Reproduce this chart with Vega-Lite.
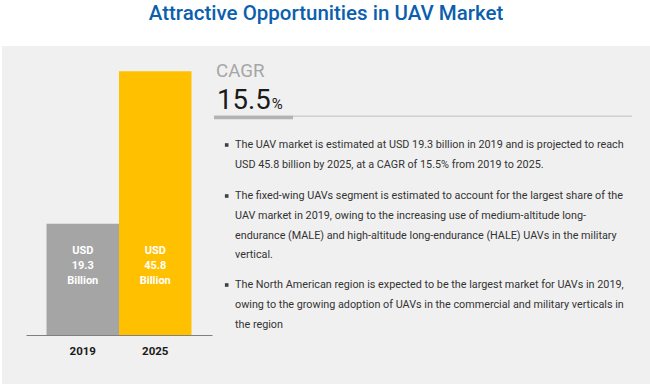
{
  "$schema": "https://vega.github.io/schema/vega-lite/v6.json",
  "width": 648,
  "height": 338,
  "autosize": {"type": "none"},
  "padding": {"left": 2, "top": 46, "right": 0, "bottom": 0},
  "background": "white",
  "title": {
    "text": "Attractive Opportunities in UAV Market",
    "anchor": "middle",
    "font": "Roboto",
    "fontSize": 20.5,
    "fontWeight": 500,
    "color": "#0b5fad",
    "offset": 22
  },
  "config": {"view": {"fill": "#f0f0f0", "stroke": null}, "font": "Roboto"},
  "datasets": {
    "market": [
      {"year": "2019", "value": 19.3},
      {"year": "2025", "value": 45.8}
    ],
    "cagr": [{"label": "CAGR", "rate": 15.5}],
    "bullets": [
      {"bullet": 1, "line": 1, "text": "The UAV market is estimated at USD 19.3 billion in 2019 and is projected to reach"},
      {"bullet": 1, "line": 2, "text": "USD 45.8 billion by 2025, at a CAGR of 15.5% from 2019 to 2025."},
      {"bullet": 2, "line": 1, "text": "The fixed-wing UAVs segment is estimated to account for the largest share of the"},
      {"bullet": 2, "line": 2, "text": "UAV market in 2019, owing to the increasing use of medium-altitude long-"},
      {"bullet": 2, "line": 3, "text": "endurance (MALE) and high-altitude long-endurance (HALE) UAVs in the military"},
      {"bullet": 2, "line": 4, "text": "vertical."},
      {"bullet": 3, "line": 1, "text": "The North American region is expected to be the largest market for UAVs in 2019,"},
      {"bullet": 3, "line": 2, "text": "owing to the growing adoption of UAVs in the commercial and military verticals in"},
      {"bullet": 3, "line": 3, "text": "the region"}
    ]
  },
  "layer": [
    {
      "data": {"name": "market"},
      "layer": [
        {
          "mark": {"type": "bar"},
          "encoding": {
            "x": {
              "field": "year",
              "type": "nominal",
              "scale": {"type": "band", "range": [24, 210], "paddingInner": 0, "paddingOuter": 0.283},
              "axis": {
                "title": null,
                "orient": "bottom",
                "offset": -49,
                "ticks": false,
                "grid": false,
                "domainColor": "#808080",
                "domainWidth": 1,
                "labelAngle": 0,
                "labelFont": "Roboto",
                "labelFontWeight": "bold",
                "labelFontSize": 11.5,
                "labelColor": "#1a1a1a",
                "labelPadding": 10
              }
            },
            "y": {
              "field": "value",
              "type": "quantitative",
              "scale": {"domain": [0, 49], "range": [289, 1]},
              "axis": null
            },
            "color": {
              "field": "year",
              "type": "nominal",
              "scale": {"range": ["#a5a5a5", "#ffc000"]},
              "legend": null
            }
          }
        },
        {
          "transform": [
            {"calculate": "['USD', format(datum.value, '.1f'), 'Billion']", "as": "label"}
          ],
          "mark": {
            "type": "text",
            "font": "Roboto",
            "fontWeight": "bold",
            "fontSize": 11,
            "color": "white",
            "lineHeight": 15,
            "lineBreak": "\n",
            "align": "center",
            "baseline": "middle"
          },
          "encoding": {
            "x": {"field": "year", "type": "nominal"},
            "y": {"datum": 14.5, "type": "quantitative"},
            "text": {"field": "label", "type": "nominal"}
          }
        }
      ]
    },
    {
      "data": {"name": "cagr"},
      "layer": [
        {
          "mark": {"type": "rule", "color": "#d0d0d0", "strokeWidth": 1.5},
          "encoding": {
            "x": {"datum": 0, "type": "quantitative", "scale": {"domain": [0, 1], "range": [212, 630]}, "axis": null},
            "x2": {"datum": 1},
            "y": {"datum": 1.23, "type": "quantitative", "scale": {"domain": [0, 1], "range": [31.3, 63]}, "axis": null}
          }
        },
        {
          "mark": {"type": "rule", "color": "#b3b3b3", "strokeWidth": 3.5},
          "encoding": {
            "x": {"datum": 0, "type": "quantitative"},
            "x2": {"datum": 0.189},
            "y": {"datum": 1.27, "type": "quantitative"}
          }
        },
        {
          "mark": {"type": "text", "align": "left", "baseline": "alphabetic", "fontSize": 18.7, "color": "#a6a6a6", "dx": 2},
          "encoding": {
            "x": {"datum": 0, "type": "quantitative"},
            "y": {"datum": 0, "type": "quantitative"},
            "text": {"field": "label", "type": "nominal"}
          }
        },
        {
          "mark": {"type": "text", "align": "left", "baseline": "alphabetic", "fontSize": 27.5, "color": "#1a1a1a", "dx": 3},
          "encoding": {
            "x": {"datum": 0, "type": "quantitative"},
            "y": {"datum": 1, "type": "quantitative"},
            "text": {"field": "rate", "type": "quantitative", "format": ".1f"}
          }
        },
        {
          "mark": {"type": "text", "align": "left", "baseline": "alphabetic", "fontSize": 15, "color": "#1a1a1a"},
          "encoding": {
            "x": {"datum": 0.138, "type": "quantitative"},
            "y": {"datum": 1, "type": "quantitative"},
            "text": {"value": "%"}
          }
        }
      ]
    },
    {
      "data": {"name": "bullets"},
      "layer": [
        {
          "transform": [{"filter": "datum.bullet == 1"}],
          "layer": [
            {
              "transform": [{"filter": "datum.line == 1"}],
              "mark": {"type": "point", "shape": "square", "filled": true, "size": 13, "color": "#404040", "opacity": 1},
              "encoding": {
                "x": {"datum": 0, "type": "quantitative", "scale": {"domain": [0, 1], "range": [224.7, 233]}, "axis": null},
                "y": {"field": "line", "type": "quantitative", "scale": {"domain": [1, 4], "range": [99, 158.4]}, "axis": null}
              }
            },
            {
              "mark": {"type": "text", "align": "left", "baseline": "middle", "fontSize": 10.8, "color": "#333333"},
              "encoding": {
                "x": {"datum": 1, "type": "quantitative"},
                "y": {"field": "line", "type": "quantitative"},
                "text": {"field": "text", "type": "nominal"}
              }
            }
          ]
        },
        {
          "transform": [{"filter": "datum.bullet == 2"}],
          "layer": [
            {
              "transform": [{"filter": "datum.line == 1"}],
              "mark": {"type": "point", "shape": "square", "filled": true, "size": 13, "color": "#404040", "opacity": 1},
              "encoding": {
                "x": {"datum": 0, "type": "quantitative"},
                "y": {"field": "line", "type": "quantitative", "scale": {"domain": [1, 4], "range": [150, 209.4]}, "axis": null}
              }
            },
            {
              "mark": {"type": "text", "align": "left", "baseline": "middle", "fontSize": 10.8, "color": "#333333"},
              "encoding": {
                "x": {"datum": 1, "type": "quantitative"},
                "y": {"field": "line", "type": "quantitative"},
                "text": {"field": "text", "type": "nominal"}
              }
            }
          ]
        },
        {
          "transform": [{"filter": "datum.bullet == 3"}],
          "layer": [
            {
              "transform": [{"filter": "datum.line == 1"}],
              "mark": {"type": "point", "shape": "square", "filled": true, "size": 13, "color": "#404040", "opacity": 1},
              "encoding": {
                "x": {"datum": 0, "type": "quantitative"},
                "y": {"field": "line", "type": "quantitative", "scale": {"domain": [1, 4], "range": [239, 299.6]}, "axis": null}
              }
            },
            {
              "mark": {"type": "text", "align": "left", "baseline": "middle", "fontSize": 10.8, "color": "#333333"},
              "encoding": {
                "x": {"datum": 1, "type": "quantitative"},
                "y": {"field": "line", "type": "quantitative"},
                "text": {"field": "text", "type": "nominal"}
              }
            }
          ]
        }
      ],
      "resolve": {"scale": {"y": "independent"}}
    }
  ],
  "resolve": {
    "scale": {"x": "independent", "y": "independent", "color": "independent"},
    "axis": {"x": "independent", "y": "independent"}
  }
}
